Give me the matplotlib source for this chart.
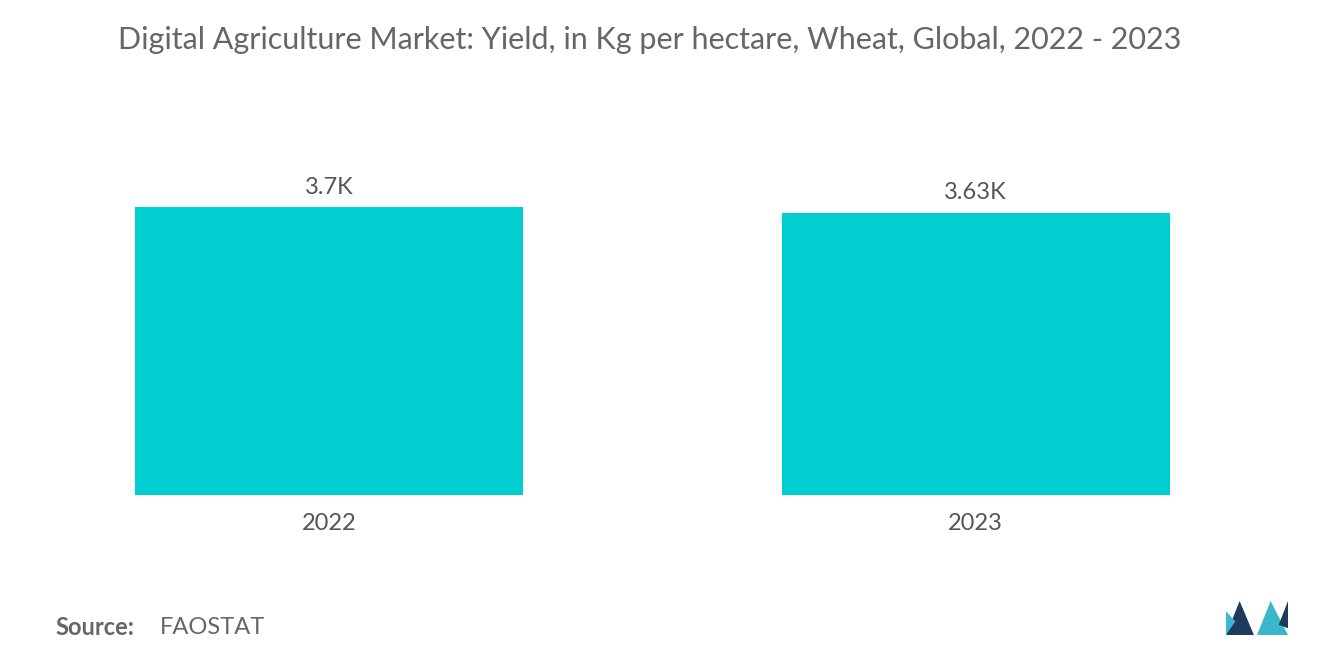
import matplotlib.pyplot as plt
import matplotlib.patches as mpatches

years = ["2022", "2023"]
yields_k = [3.7, 3.63]
labels = ["3.7K", "3.63K"]

plt.rcParams['font.family'] = ['Lato', 'DejaVu Sans']

fig = plt.figure(figsize=(13.2, 6.65), dpi=100)
ax = fig.add_axes([0.0042, 0.2556, 0.98, 0.5265])
x = range(len(years))
bars = ax.bar(x, yields_k, width=0.6, color="#00CED1")
for b, lab in zip(bars, labels):
    ax.text(b.get_x() + b.get_width() / 2, b.get_height() + 0.12, lab,
            ha="center", va="bottom", fontsize=17, color="#555555")
ax.set_xlim(-0.5, 1.5)
ax.set_ylim(0, 4.5)
ax.set_xticks(list(x))
ax.set_xticklabels(years, fontsize=17, color="#555555")
ax.tick_params(axis="x", length=0, pad=13)
ax.set_yticks([])
for s in ax.spines.values():
    s.set_visible(False)

fig.text(0.4925, 0.94, "Digital Agriculture Market: Yield, in Kg per hectare, Wheat, Global, 2022 - 2023",
         ha="center", va="center", fontsize=22, color="#666666")
fig.text(0.042, 0.057, "Source:", ha="left", va="center", fontsize=17,
         color="#666666", fontweight="bold")
fig.text(0.121, 0.057, "FAOSTAT", ha="left", va="center", fontsize=17, color="#666666")

# logo
lx, ly = 1226 / 1320, 30 / 665
w, h = 62 / 1320, 34 / 665
fig.patches.append(mpatches.Polygon(
    [(lx, ly), (lx + w * 0.22, ly + h), (lx + w * 0.45, ly), (lx + w * 0.3, ly)],
    closed=True, transform=fig.transFigure, facecolor="#1F3B5C"))
fig.patches.append(mpatches.Polygon(
    [(lx, ly), (lx, ly + h * 0.7), (lx + w * 0.15, ly + h * 0.4)],
    closed=True, transform=fig.transFigure, facecolor="#3CB6C9"))
fig.patches.append(mpatches.Polygon(
    [(lx + w * 0.5, ly), (lx + w * 0.72, ly + h), (lx + w, ly), (lx + w * 0.8, ly)],
    closed=True, transform=fig.transFigure, facecolor="#3CB6C9"))
fig.patches.append(mpatches.Polygon(
    [(lx + w * 0.85, ly + h * 0.3), (lx + w, ly + h), (lx + w, ly + h * 0.2)],
    closed=True, transform=fig.transFigure, facecolor="#1F3B5C"))

fig.savefig("out.png", dpi=100, facecolor="white")
